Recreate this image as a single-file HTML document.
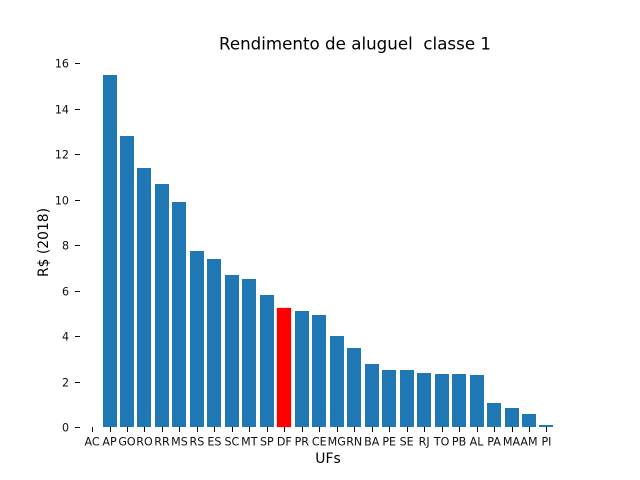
<!DOCTYPE html>
<html lang="pt">
<head>
<meta charset="utf-8">
<title>Rendimento de aluguel classe 1</title>
<style>
html,body{margin:0;padding:0;background:#fff;}
svg{display:block;}
text{font-family:"DejaVu Sans","Liberation Sans",sans-serif;fill:#000;}
.tick-label{font-size:11.1px;fill:#111;}
.axis-title{font-size:13.9px;}
.chart-title{font-size:16.67px;white-space:pre;}
</style>
</head>
<body>
<svg id="chart" xmlns="http://www.w3.org/2000/svg" width="640" height="480" viewBox="0 0 640 480">
  <rect x="0" y="0" width="640" height="480" fill="#fff"/>
  <text class="chart-title" x="355" y="49.5" text-anchor="middle" xml:space="preserve" textLength="272" lengthAdjust="spacing">Rendimento de aluguel  classe 1</text>
  <text class="axis-title" x="328" y="463" text-anchor="middle">UFs</text>
  <text class="axis-title" transform="translate(48 242.5) rotate(-90)" text-anchor="middle">R$ (2018)</text>
  <g id="y-axis"></g>
  <g id="x-axis"></g>
  <g id="bars"></g>
</svg>
<script>
const categories = ["AC","AP","GO","RO","RR","MS","RS","ES","SC","MT","SP","DF","PR","CE","MG","RN","BA","PE","SE","RJ","TO","PB","AL","PA","MA","AM","PI"];
const values = [0,15.5,12.8,11.4,10.7,9.9,7.75,7.4,6.7,6.5,5.8,5.25,5.1,4.95,4.0,3.5,2.8,2.5,2.5,2.4,2.35,2.35,2.3,1.05,0.85,0.6,0.08];
const yTicks = [0,2,4,6,8,10,12,14,16];
const highlighted = ["DF"];

const SVG_NS = "http://www.w3.org/2000/svg";
const plotLeft = 80, plotRight = 576;
const xMin = -0.69, xMax = 27.69;
const baselineY = 427.2, unitY = 22.75;
const barFraction = 0.8;
const unitX = (plotRight - plotLeft) / (xMax - xMin);

function xScale(i) { return plotLeft + (i - xMin) * unitX; }
function yScale(v) { return baselineY - v * unitY; }

function make(tag, attrs) {
  const el = document.createElementNS(SVG_NS, tag);
  for (const k in attrs) el.setAttribute(k, attrs[k]);
  return el;
}

const barsGroup = document.getElementById("bars");
const xAxis = document.getElementById("x-axis");
const yAxis = document.getElementById("y-axis");

categories.forEach(function (cat, i) {
  const cx = xScale(i);
  const v = values[i];
  if (v > 0) {
    const isHot = highlighted.indexOf(cat) >= 0;
    const left = Math.round(cx - barFraction * unitX / 2);
    const top = Math.round(yScale(v));
    const bar = make("rect", {
      x: left,
      y: top,
      width: 14,
      height: Math.round(baselineY) - top,
      fill: isHot ? "#ff0000" : "#1f77b4",
      "shape-rendering": "crispEdges"
    });
    if (isHot) {
      bar.setAttribute("stroke", "#ff0000");
      bar.setAttribute("stroke-opacity", "0.25");
      bar.setAttribute("stroke-width", "1");
    }
    
    
    barsGroup.appendChild(bar);
  }
  const tickX = Math.round(cx) + 0.5;
  const tick = make("line", { x1: tickX, x2: tickX, y1: Math.round(baselineY), y2: Math.round(baselineY) + 5, stroke: "#000", "stroke-width": 1 });
  
  
  xAxis.appendChild(tick);
  const label = make("text", { x: cx, y: 445.5, "text-anchor": "middle", "class": "tick-label" });
  label.textContent = cat;
  
  
  xAxis.appendChild(label);
});

yTicks.forEach(function (t) {
  const y = Math.round(yScale(t));
  const tick = make("line", { x1: 75, x2: 80, y1: y + 0.5, y2: y + 0.5, stroke: "#000", "stroke-width": 1 });
  
  
  yAxis.appendChild(tick);
  const label = make("text", { x: 69, y: y + 4.5, "text-anchor": "end", "class": "tick-label" });
  label.textContent = String(t);
  
  
  yAxis.appendChild(label);
});
</script>
</body>
</html>
